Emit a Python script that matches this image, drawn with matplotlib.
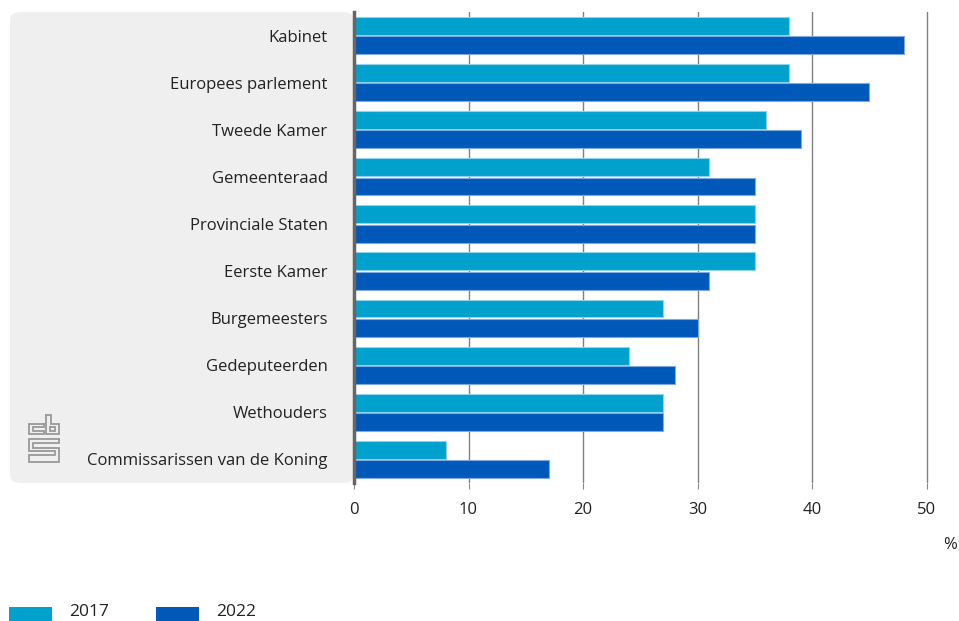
import matplotlib
matplotlib.use("Agg")
import matplotlib.pyplot as plt
from matplotlib.patches import FancyBboxPatch, Rectangle
from matplotlib.lines import Line2D
import numpy as np

categories = ["Kabinet", "Europees parlement", "Tweede Kamer", "Gemeenteraad",
              "Provinciale Staten", "Eerste Kamer", "Burgemeesters", "Gedeputeerden",
              "Wethouders", "Commissarissen van de Koning"]
values_2017 = [38, 38, 36, 31, 35, 35, 27, 24, 27, 8]
values_2022 = [48, 45, 39, 35, 35, 31, 30, 28, 27, 17]
series_labels = ["2017", "2022"]
colors = ["#00a1cd", "#0058b8"]
xticks = [0, 10, 20, 30, 40, 50]

W, H = 959, 621
plt.rcParams['font.family'] = ['Open Sans', 'DejaVu Sans']
fig = plt.figure(figsize=(W / 100, H / 100), dpi=100)

def fx(px):
    return px / W

def fy(py):
    return 1 - py / H

left, right, top, bottom = 354, 938, 12, 483
ax = fig.add_axes([fx(left), fy(bottom), fx(right) - fx(left), (bottom - top) / H])
ax.set_zorder(2)

# gray background panel
bg = FancyBboxPatch((fx(10), fy(bottom)), fx(left) - fx(10), (bottom - top) / H,
                    boxstyle="round,pad=0,rounding_size=0.012",
                    transform=fig.transFigure, facecolor="#efefef", edgecolor="none",
                    zorder=-5)
fig.patches.append(bg)

y = np.arange(len(categories))
h = 0.38
ax.barh(y - 0.205, values_2017, height=h, color=colors[0], edgecolor="#8fd3ea",
        linewidth=0.8, zorder=3, label=series_labels[0])
ax.barh(y + 0.205, values_2022, height=h, color=colors[1], edgecolor="#7fa9e0",
        linewidth=0.8, zorder=3, label=series_labels[1])

ax.set_ylim(len(categories) - 0.5, -0.5)
ax.set_xlim(0, 51)
ax.set_xticks(xticks)
ax.set_xticklabels([str(t) for t in xticks])
ax.set_yticks(y)
ax.set_yticklabels(categories)
ax.tick_params(axis="y", length=0, pad=19, labelsize=12, labelcolor="#222222")
ax.tick_params(axis="x", length=4, width=0.8, color="#888888", pad=10,
               labelsize=12, labelcolor="#222222")
for s in ["top", "right", "bottom"]:
    ax.spines[s].set_visible(False)
ax.spines["left"].set_color("#666666")
ax.spines["left"].set_linewidth(2.5)
ax.spines["left"].set_zorder(5)
ax.patch.set_alpha(0)
ax.xaxis.grid(True, color="#808080", linewidth=1.0, zorder=0)
ax.set_axisbelow(True)

fig.text(fx(950), fy(545), "%", ha="center", va="center", fontsize=12, color="#222222")

# legend (near the bottom edge as in reference)
for i, (lab, c) in enumerate(zip(series_labels, colors)):
    x0 = 9 + i * 147
    fig.patches.append(Rectangle((fx(x0), fy(621)), fx(43), 14 / H,
                                 transform=fig.transFigure, facecolor=c,
                                 edgecolor="none"))
    fig.text(fx(x0 + 60), fy(612), lab, ha="left", va="center", fontsize=12.5,
             color="#222222")

# cbs logo (decorative)
lc = "#999999"
lw = 1.3
def pl(xs, ys):
    fig.add_artist(Line2D([fx(v) for v in xs], [fy(v) for v in ys], color=lc,
                          linewidth=lw, transform=fig.transFigure,
                          solid_joinstyle="miter", zorder=1))
# c
pl([44, 29, 29, 44, 44, 33, 33, 44, 44], [424, 424, 434, 434, 431, 431, 427, 427, 424])
# b
pl([46, 46, 59, 59, 51, 51, 46], [415, 434, 434, 424, 424, 415, 415])
pl([50, 55, 55, 50, 50], [427, 427, 431, 431, 427])
# s
pl([59, 29, 29, 55, 55, 29, 29, 59, 59, 33, 33, 59, 59],
   [439, 439, 451, 451, 455, 455, 462, 462, 448, 448, 443, 443, 439])

fig.savefig("out.png", dpi=100)
